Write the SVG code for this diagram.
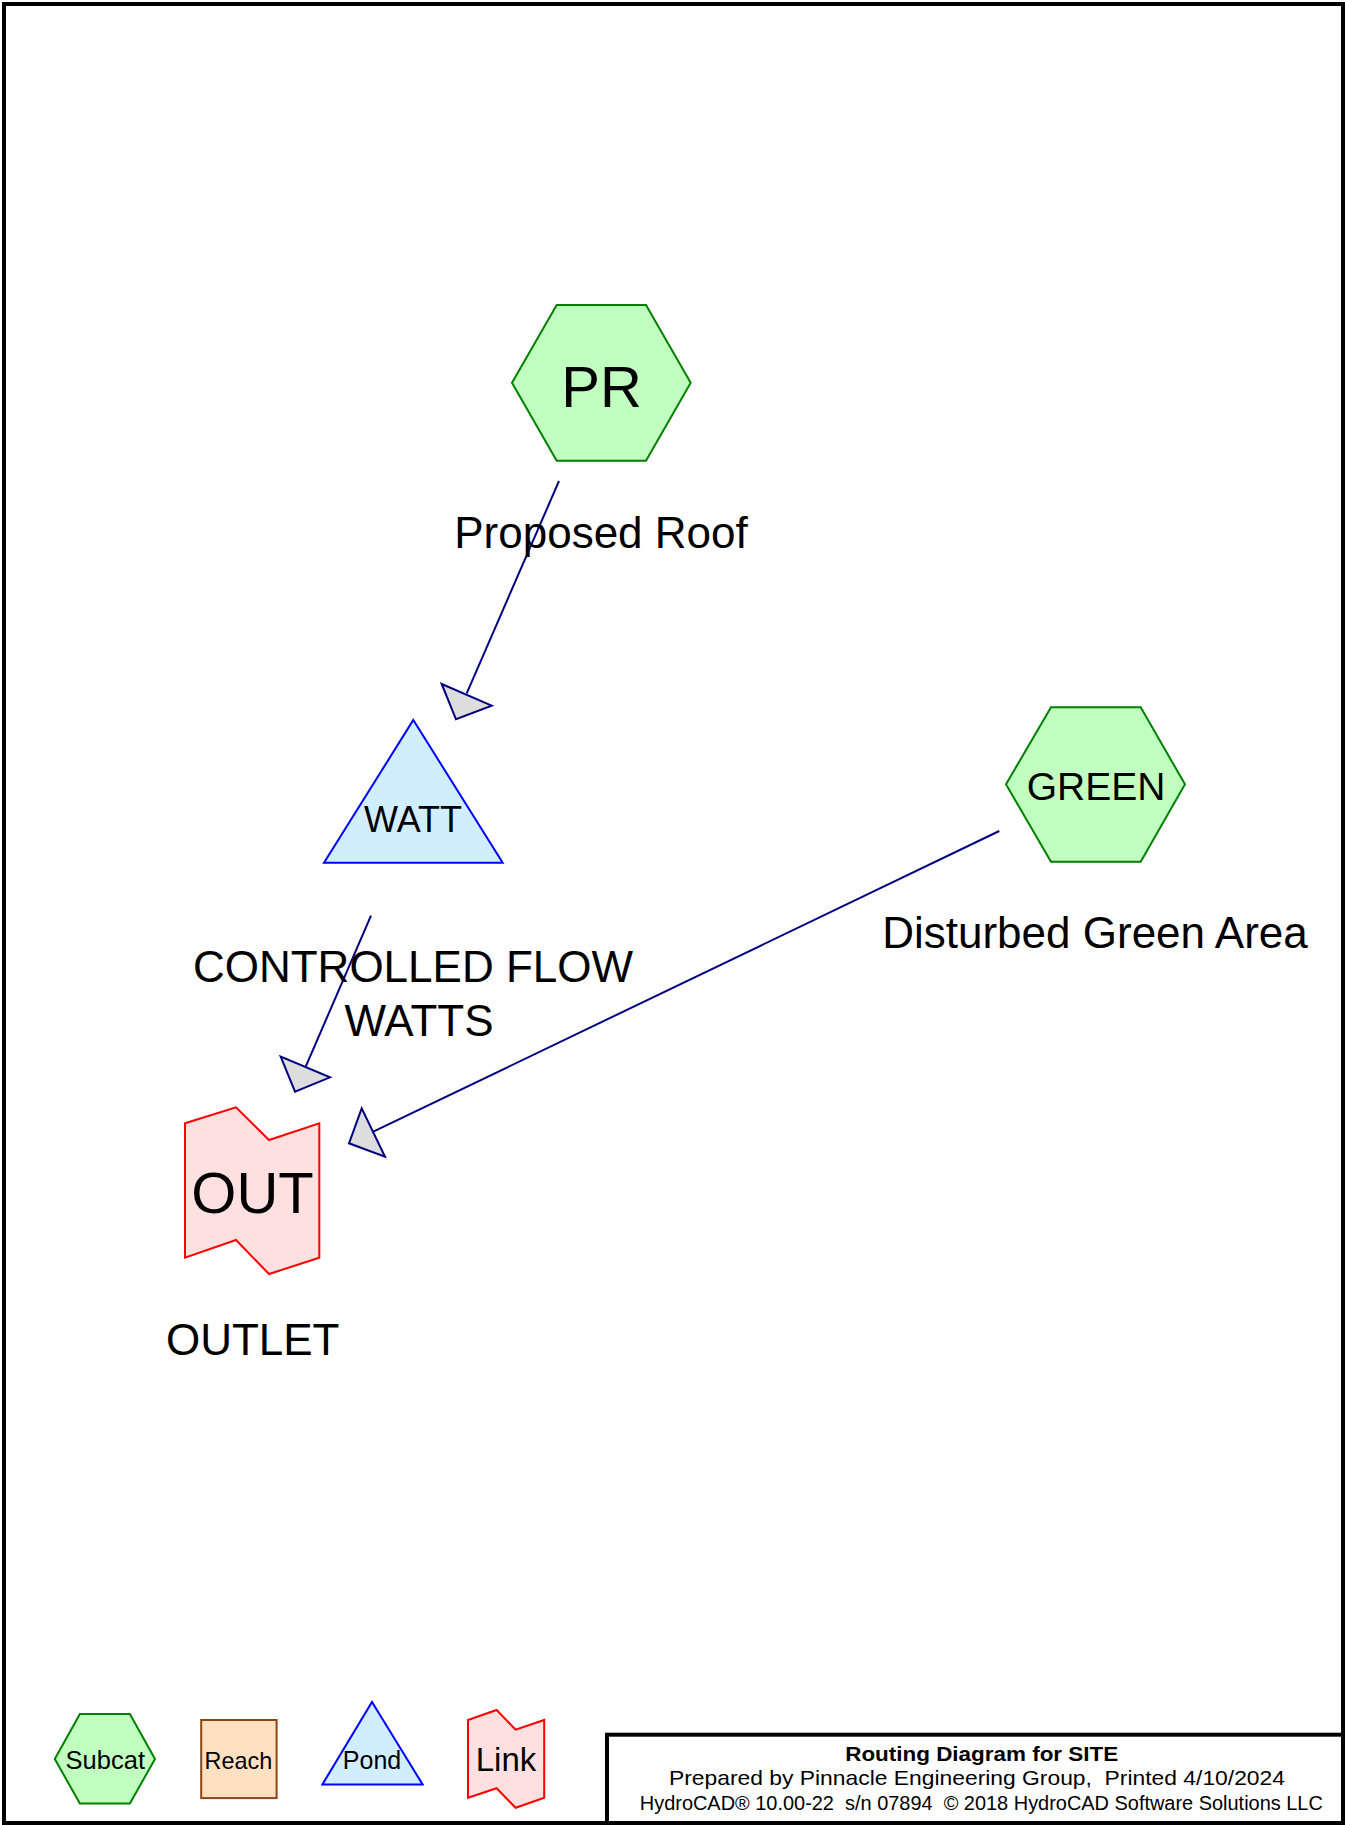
<svg xmlns="http://www.w3.org/2000/svg" width="1345" height="1825" viewBox="0 0 1345 1825">
<style>
text{font-family:"Liberation Sans",Arial,sans-serif;fill:#000}
.sub{fill:#C0FFC0;stroke:#008000;stroke-width:2}
.pond{fill:#D0EEFF;stroke:#0000FF;stroke-width:2}
.link{fill:#FFE0E0;stroke:#FF0000;stroke-width:2}
.reach{fill:#FFE0C0;stroke:#8B4513;stroke-width:2}
.conn{stroke:#000080;stroke-width:2;fill:none}
.head{fill:#DDDDDD;stroke:#000080;stroke-width:2;stroke-linejoin:miter}
.mid{text-anchor:middle}
</style>
<rect x="0" y="0" width="1345" height="1825" fill="#FFFFFF"/>
<rect x="4" y="4" width="1339" height="1819" fill="none" stroke="#000" stroke-width="4"/>

<g id="connectors">
<line class="conn" x1="559" y1="481" x2="466.7" y2="693.3"/>
<polygon class="head" points="441.7,684 456,719.3 491.7,705.7"/>
<line class="conn" x1="371" y1="915.7" x2="305.7" y2="1066.7"/>
<polygon class="head" points="280.7,1056.7 295,1091.7 330,1077.3"/>
<line class="conn" x1="999.3" y1="831" x2="373.3" y2="1131.7"/>
<polygon class="head" points="361.7,1108.3 349,1143.3 385,1156.7"/>
</g>

<g id="node-PR">
<polygon class="sub" points="556.7,305 646,305 690.7,382.7 646,460.7 556.7,460.7 512,382.7"/>
<text class="mid" x="601.5" y="406.7" font-size="58">PR</text>
<text class="mid" x="601" y="548.3" font-size="44">Proposed Roof</text>
</g>

<g id="node-WATT">
<polygon class="pond" points="413.3,720 502.7,862.7 324,862.7"/>
<text class="mid" x="413" y="831.7" font-size="36">WATT</text>
<text class="mid" x="413" y="981.7" font-size="44">CONTROLLED FLOW</text>
<text class="mid" x="419" y="1036" font-size="44">WATTS</text>
</g>

<g id="node-GREEN">
<polygon class="sub" points="1051,707.3 1140.7,707.3 1185,784.3 1140.7,861.7 1051,861.7 1006,784.3"/>
<text class="mid" x="1096" y="800" font-size="39">GREEN</text>
<text class="mid" x="1095" y="948.3" font-size="44">Disturbed Green Area</text>
</g>

<g id="node-OUT">
<polygon class="link" points="185,1123.3 236,1107.3 269,1140 319.3,1123.3 319.3,1257.7 269,1274 236,1240 185,1257.7"/>
<text class="mid" x="252.5" y="1213.3" font-size="58">OUT</text>
<text class="mid" x="252.7" y="1355" font-size="44">OUTLET</text>
</g>

<g id="legend">
<polygon class="sub" points="79.9,1714.1 129.9,1714.1 155,1758.9 129.9,1803.6 79.9,1803.6 54.8,1758.9"/>
<text class="mid" x="105.3" y="1768.5" font-size="25.5">Subcat</text>
<rect class="reach" x="201.2" y="1720" width="75.4" height="78.1"/>
<text class="mid" x="238.4" y="1768.5" font-size="23.4">Reach</text>
<polygon class="pond" points="372,1702 422.6,1784.4 322.4,1784.4"/>
<text class="mid" x="372" y="1769.2" font-size="25">Pond</text>
<polygon class="link" points="468,1720 496.6,1710 515.6,1729.6 544.2,1720 544.2,1797.8 515.6,1807.8 496.6,1788.2 468,1797.8"/>
<text class="mid" x="506" y="1771" font-size="33">Link</text>
</g>

<g id="titleblock">
<rect x="607" y="1734.7" width="736" height="88.3" fill="none" stroke="#000" stroke-width="4"/>
<text class="mid" x="981.7" y="1761" font-size="20.5" font-weight="bold" textLength="273" lengthAdjust="spacingAndGlyphs">Routing Diagram for SITE</text>
<text class="mid" x="977" y="1784.5" font-size="21" textLength="616" lengthAdjust="spacingAndGlyphs" xml:space="preserve">Prepared by Pinnacle Engineering Group,  Printed 4/10/2024</text>
<text class="mid" x="981.3" y="1810" font-size="20.5" textLength="683" lengthAdjust="spacingAndGlyphs" xml:space="preserve">HydroCAD® 10.00-22  s/n 07894  © 2018 HydroCAD Software Solutions LLC</text>
</g>
</svg>
